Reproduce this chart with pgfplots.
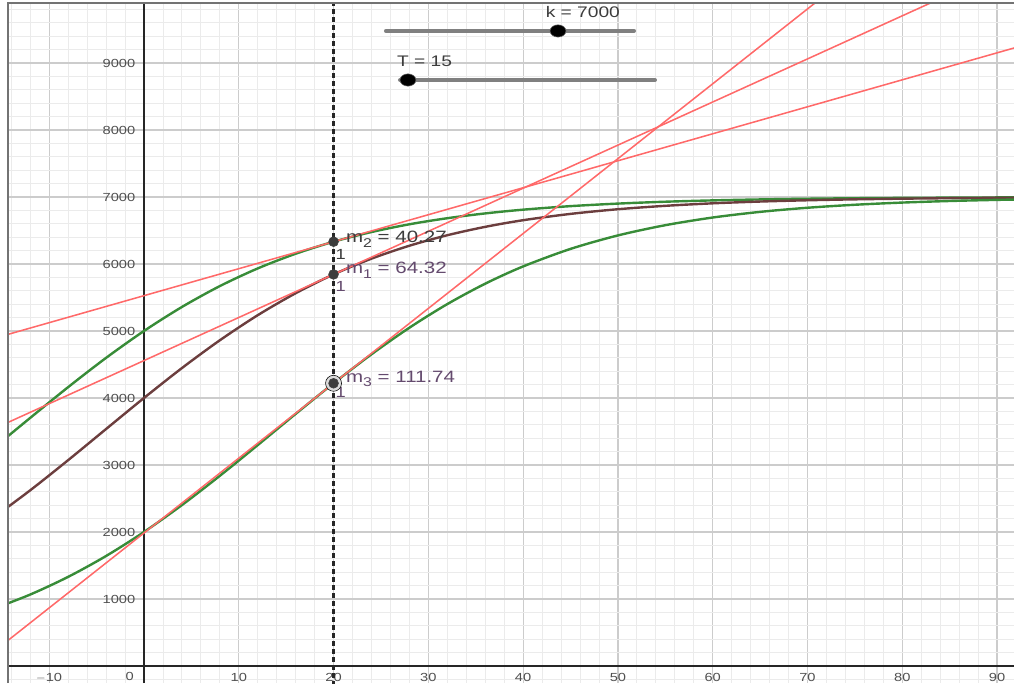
\documentclass[border=0pt]{standalone}
\usepackage{pgfplots}
\pgfplotsset{compat=1.18}
\usepackage{pgfplotstable}
\usepackage{fontspec}
\setmainfont[FakeStretch=1.25]{Liberation Sans}

\definecolor{ggreen}{RGB}{56,140,56}
\definecolor{gbrown}{RGB}{108,62,62}
\definecolor{gred}{RGB}{255,105,105}
\definecolor{glab}{RGB}{80,80,80}
\definecolor{gpurp}{RGB}{100,74,110}
\definecolor{gdark}{RGB}{60,60,60}

\newcommand{\sub}[1]{\raisebox{-3.2pt}{\fontsize{9.5}{10}\selectfont #1}}

% x, brown (a=0.75), upper green (a=0.4), lower green (a=2.5)
\pgfplotstableread{
x    b      g      h
-16  2201.7 3237.3 847.0
-12  2622.6 3703.3 1066.5
-8   3072.2 4162.2 1330.4
-4   3536.8 4598.6 1641.7
0    4000.0 5000.0 2000.0
4    4446.1 5358.2 2401.5
8    4861.1 5669.9 2838.0
12   5235.6 5933.7 3296.7
16   5563.5 6152.8 3762.4
20   5844.5 6332.4 4219.4
24   6079.5 6476.7 4651.8
28   6272.4 6592.6 5048.7
32   6429.1 6683.2 5401.2
36   6554.3 6754.8 5706.0
40   6653.4 6810.7 5963.5
45   6747.6 6863.4 6225.0
50   6817.3 6901.3 6426.2
55   6868.1 6929.3 6578.9
60   6905.4 6949.1 6693.4
65   6931.9 6963.5 6777.7
70   6951.0 6973.8 6839.3
75   6964.8 6981.2 6884.0
80   6974.7 6986.5 6916.5
85   6981.9 6990.3 6940.0
90   6987.0 6993.1 6956.9
95   6990.6 6995.0 6969.0
}\curves

% tangent lines at x = 20
\pgfplotstableread{
x   t1      t2     t3
-16 3529.0  4882.7 196.8
95  10668.5 9352.7 12599.9
}\tangents

\begin{document}
\begin{tikzpicture}
\begin{axis}[
  width=760.5pt, height=512.25pt, scale only axis,
  xmin=-15.19, xmax=91.79, ymin=-254, ymax=9940,
  axis lines=middle,
  axis line style={-, line width=1.7pt, black!85},
  xtick={-10,0,10,20,30,40,50,60,70,80,90},
  xticklabels={$-$10,,10,20,30,40,50,60,70,80,90},
  ytick={0,1000,2000,3000,4000,5000,6000,7000,8000,9000},
  yticklabels={,1000,2000,3000,4000,5000,6000,7000,8000,9000},
  minor xtick={-14,-12,...,92},
  minor ytick={-200,0,...,10000},
  major tick length=0pt, minor tick length=0pt,
  grid=both,
  major grid style={draw=black!20, line width=0.9pt},
  minor grid style={draw=black!8, line width=0.6pt},
  xticklabel style={font=\fontsize{8.8}{9}\selectfont, text=glab, anchor=north, yshift=-2pt},
  yticklabel style={font=\fontsize{8.8}{9}\selectfont, text=glab, anchor=east, xshift=-3pt},
  /pgf/number format/assume math mode=true,
  clip=true,
]
% curves
\addplot[ggreen, line width=1.8pt, smooth] table[x=x, y=g] {\curves};
\addplot[gbrown, line width=1.8pt, smooth] table[x=x, y=b] {\curves};
\addplot[ggreen, line width=1.8pt, smooth] table[x=x, y=h] {\curves};
% tangents
\addplot[gred, line width=1.15pt] table[x=x, y=t1] {\tangents};
\addplot[gred, line width=1.15pt] table[x=x, y=t2] {\tangents};
\addplot[gred, line width=1.15pt] table[x=x, y=t3] {\tangents};
% vertical dashed line x = 20
\addplot[black!85, line width=1.8pt, dash pattern=on 3.5pt off 2.5pt] coordinates {(20,-300) (20,10000)};
% points
\addplot[only marks, mark=*, mark size=6pt, mark options={draw=none, fill=black!14}] coordinates {(20,4219.4)};
\addplot[only marks, mark=*, mark size=3.7pt, mark options={draw=black!75, fill=gdark}] coordinates {(20,6332.4) (20,5844.5) (20,4219.4)};
% labels
\node[anchor=west, text=gdark, font=\fontsize{12.3}{13}\selectfont, inner sep=0pt] at (axis cs:21.3,6370) {m\sub{2} = 40.27};
\node[anchor=west, text=gpurp, font=\fontsize{12.3}{13}\selectfont, inner sep=0pt] at (axis cs:21.3,5905) {m\sub{1} = 64.32};
\node[anchor=west, text=gpurp, font=\fontsize{12.3}{13}\selectfont, inner sep=0pt] at (axis cs:21.3,4285) {m\sub{3} = 111.74};
\node[anchor=west, text=gdark, font=\fontsize{11}{12}\selectfont, inner sep=0pt] at (axis cs:20.2,6140) {1};
\node[anchor=west, text=gpurp, font=\fontsize{11}{12}\selectfont, inner sep=0pt] at (axis cs:20.2,5670) {1};
\node[anchor=west, text=gpurp, font=\fontsize{11}{12}\selectfont, inner sep=0pt] at (axis cs:20.2,4080) {1};
% zero label
\node[text=glab, font=\fontsize{8.8}{9}\selectfont, inner sep=0pt] at (axis cs:-1.5,-150) {0};
% sliders
\addplot[black!50, line width=3pt, line cap=round] coordinates {(25.53,9478) (51.70,9478)};
\addplot[only marks, mark=*, mark size=4.6pt, mark options={xscale=1.3, draw=black!60, fill=black}] coordinates {(43.68,9478)};
\node[text=gdark, font=\fontsize{11.5}{12}\selectfont, inner sep=0pt] at (axis cs:46.3,9760) {k = 7000};
\addplot[black!50, line width=3pt, line cap=round] coordinates {(27.01,8746) (53.91,8746)};
\addplot[only marks, mark=*, mark size=4.6pt, mark options={xscale=1.3, draw=black!60, fill=black}] coordinates {(27.85,8746)};
\node[text=gdark, font=\fontsize{11.5}{12}\selectfont, inner sep=0pt] at (axis cs:29.6,9020) {T = 15};
% frame and outer strips
\fill[white] (axis cs:-15.19,-254) rectangle (axis cs:-14.35,9940);
\fill[white] (axis cs:-15.19,9895) rectangle (axis cs:91.79,9940);
\draw[black!55, line width=1.4pt] (axis cs:-14.35,-254) -- (axis cs:-14.35,9895) -- (axis cs:91.79,9895);
\coordinate (SW) at (rel axis cs:0,0);
\coordinate (NE) at (rel axis cs:1,1);
\end{axis}
\pgfresetboundingbox
\path[use as bounding box] (SW) rectangle (NE);
\end{tikzpicture}
\end{document}
